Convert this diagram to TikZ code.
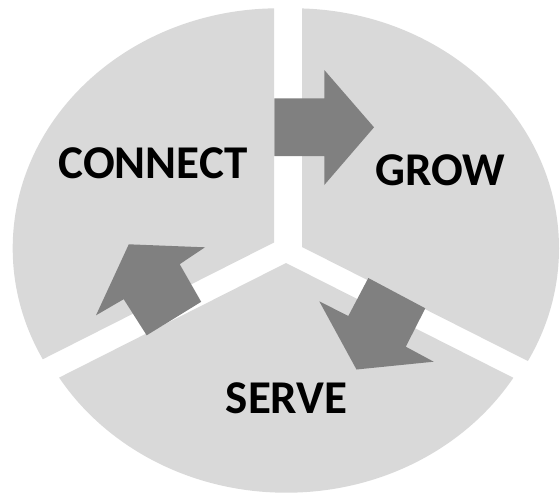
\documentclass[tikz,border=0pt]{standalone}
\usepackage{fontspec}
\setmainfont{Carlito}
\definecolor{sectorgray}{HTML}{D9D9D9}
\definecolor{arrowgray}{HTML}{808080}
\begin{document}
\begin{tikzpicture}[x=1pt,y=-1pt,
  sectorfill/.style={fill=sectorgray},
  blockarrow/.style={fill=arrowgray},
  txt/.style={font=\fontsize{47}{47}\selectfont\bfseries, anchor=base, inner sep=0pt, text=black}]
\useasboundingbox (0,0) rectangle (560,496);
% left sector
\begin{scope}
  \clip (-50,-50) -- (274,-50) -- (274,242.5) -- (-50,406.1) -- cycle;
  \fill[sectorfill] (278.7,248.3) ellipse [x radius=266pt, y radius=240pt];
\end{scope}
% right sector
\begin{scope}
  \clip (302,-50) -- (610,-50) -- (610,402.5) -- (302,247) -- cycle;
  \fill[sectorfill] (293,248.3) ellipse [x radius=266pt, y radius=240pt];
\end{scope}
% bottom sector
\begin{scope}
  \clip (286,263) -- (-50,432.7) -- (-50,550) -- (610,550) -- (610,426.6) -- cycle;
  \fill[sectorfill] (286.3,252.7) ellipse [x radius=266pt, y radius=240pt];
\end{scope}
% block arrows
\fill[blockarrow] (274.3,98.3) -- (324.3,98.3) -- (324.3,70) -- (374,127.3) -- (324.3,185) -- (324.3,156) -- (274.3,156) -- cycle;
\fill[blockarrow] (368.3,278) -- (425.3,308.3) -- (405.8,346.7) -- (433.7,361.7) -- (356.5,369.5) -- (319.3,301.3) -- (348.3,316) -- cycle;
\fill[blockarrow] (128.8,244.3) -- (205,247.3) -- (179.7,264.2) -- (201.2,301.8) -- (146.7,335.3) -- (123.7,299.2) -- (96,315.3) -- cycle;
% labels
\node[txt] (connect) at (153,178) {CONNECT};
\node[txt] (grow) at (440,185) {GROW};
\node[txt] (serve) at (286.7,413) {SERVE};
\end{tikzpicture}
\end{document}
